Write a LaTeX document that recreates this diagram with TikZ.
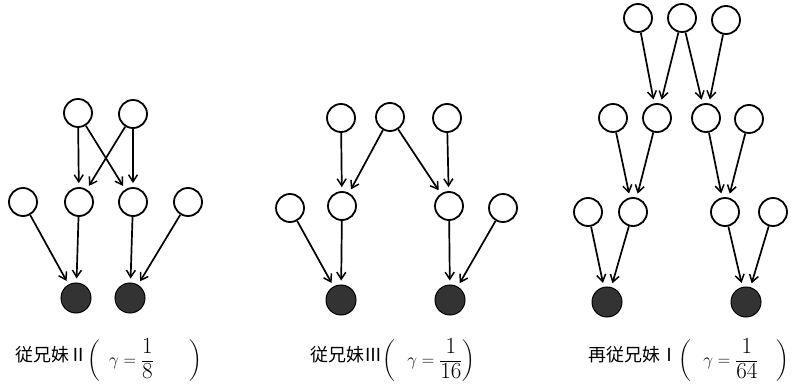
\documentclass[tikz,border=0pt]{standalone}
\usepackage{amsmath}
\usepackage{fontspec}
\newfontfamily\cjk{Noto Sans CJK JP}
\usetikzlibrary{arrows.meta}
\tikzset{
  nd/.style={circle, draw, line width=1.8pt, minimum size=28pt, inner sep=0pt},
  sd/.style={circle, draw, line width=1pt, fill=black!80, minimum size=30pt, inner sep=0pt},
  arr/.style={-{Straight Barb[length=7pt,width=9pt,line width=1.5pt]}, line width=1.7pt, shorten >=4pt},
  lbl/.style={inner sep=0pt, font=\fontsize{16}{18}\selectfont}
}
\newcommand{\dg}[1]{\text{\fontsize{23}{23}\selectfont #1}}
\newcommand{\fr}[2]{\dfrac{\dg{#1}}{\dg{#2}}}
\newcommand{\kj}[1]{\raisebox{4pt}{\fontsize{18}{20}\selectfont\cjk #1}}
\begin{document}
\begin{tikzpicture}[x=1pt,y=-1pt]
\useasboundingbox (0,0) rectangle (795,390);
% ---------- diagram 1 ----------
\node[nd] (a1) at (78,113) {};
\node[nd] (a2) at (133,114) {};
\node[nd] (b1) at (23,202) {};
\node[nd] (b2) at (79,202) {};
\node[nd] (b3) at (133,202) {};
\node[nd] (b4) at (188,202) {};
\node[sd] (c1) at (76,298) {};
\node[sd] (c2) at (130,298) {};
\draw[arr] (a1) -- (b2);
\draw[arr] (a1) -- (b3);
\draw[arr] (a2) -- (b2);
\draw[arr] (a2) -- (b3);
\draw[arr] (b1) -- (c1);
\draw[arr] (b2) -- (c1);
\draw[arr] (b3) -- (c2);
\draw[arr] (b4) -- (c2);
\node[lbl] (l1) at (109,360) {\kj{従兄妹Ⅱ}$\left(\hspace{9pt}\gamma=\fr{1}{8}\hspace{36pt}\right)$};
% ---------- diagram 2 ----------
\node[nd] (p1) at (341,118) {};
\node[nd] (p2) at (390,117) {};
\node[nd] (p3) at (447,118) {};
\node[nd] (q1) at (290,208) {};
\node[nd] (q2) at (342,206) {};
\node[nd] (q3) at (449,206) {};
\node[nd] (q4) at (503,208) {};
\node[sd] (r1) at (341,300) {};
\node[sd] (r2) at (450,300) {};
\draw[arr] (p1) -- (q2);
\draw[arr] (p2) -- (q2);
\draw[arr] (p2) -- (q3);
\draw[arr] (p3) -- (q3);
\draw[arr] (q1) -- (r1);
\draw[arr] (q2) -- (r1);
\draw[arr] (q3) -- (r2);
\draw[arr] (q4) -- (r2);
\node[lbl] (l2) at (393,360) {\kj{従兄妹Ⅲ}$\left(\hspace{12pt}\gamma=\fr{1}{16}\right)$};
% ---------- diagram 3 ----------
\node[nd] (t1) at (638,18) {};
\node[nd] (t2) at (682,18) {};
\node[nd] (t3) at (726,20) {};
\node[nd] (u1) at (613,118) {};
\node[nd] (u2) at (657,118) {};
\node[nd] (u3) at (706,118) {};
\node[nd] (u4) at (749,119) {};
\node[nd] (v1) at (588,212) {};
\node[nd] (v2) at (633,212) {};
\node[nd] (v3) at (725,212) {};
\node[nd] (v4) at (773,212) {};
\node[sd] (w1) at (607,302) {};
\node[sd] (w2) at (746,302) {};
\draw[arr] (t1) -- (u2);
\draw[arr] (t2) -- (u2);
\draw[arr] (t2) -- (u3);
\draw[arr] (t3) -- (u3);
\draw[arr] (u1) -- (v2);
\draw[arr] (u2) -- (v2);
\draw[arr] (u3) -- (v3);
\draw[arr] (u4) -- (v3);
\draw[arr] (v1) -- (w1);
\draw[arr] (v2) -- (w1);
\draw[arr] (v3) -- (w2);
\draw[arr] (v4) -- (w2);
\node[lbl] (l3) at (689,360) {\kj{再従兄妹Ⅰ}$\left(\hspace{12pt}\gamma=\fr{1}{64}\hspace{18pt}\right)$};
\end{tikzpicture}
\end{document}
